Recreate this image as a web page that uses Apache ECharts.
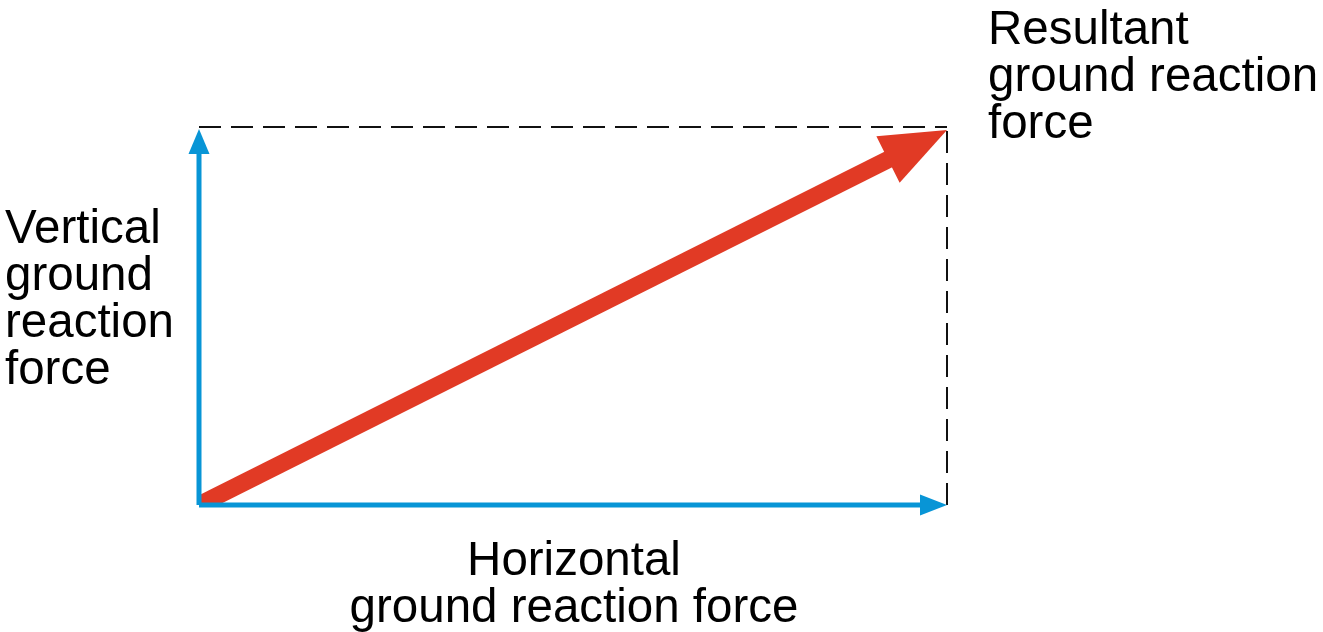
<!DOCTYPE html>
<html>
<head>
<meta charset="utf-8">
<script src="https://cdn.jsdelivr.net/npm/echarts@6/dist/echarts.min.js"></script>
<style>
  html, body { margin: 0; padding: 0; background: #fff; }
  #chart { width: 1323px; height: 632px; }
</style>
</head>
<body>
<div id="chart"></div>
<script>
// force vectors, drawn in order (resultant under the components)
const arrowNames = ['Resultant', 'Horizontal', 'Vertical'];
const arrowStartX = [0, 0, 0];
const arrowStartY = [0, 0, 0];
const arrowEndX = [1, 1, 0];
const arrowEndY = [0.992, 0, 0.995];

// dashed completion of the parallelogram
const dashStartX = [0, 1];
const dashStartY = [1, 0];
const dashEndX = [1, 1];
const dashEndY = [1, 1];

const labelResultant = 'Resultant\nground reaction\nforce';
const labelVertical = 'Vertical\nground\nreaction\nforce';
const labelHorizontal = 'Horizontal\nground reaction force';

const arrowStyle = {
    Resultant: { color: '#E13A25', width: 17.5, headLen: 66, headWidth: 52, clipStart: true },
    Horizontal: { color: '#0895D6', width: 5, headLen: 27, headWidth: 21, clipStart: false },
    Vertical: { color: '#0895D6', width: 5, headLen: 25, headWidth: 21, clipStart: false }
};

let arrowData = [];
arrowNames.forEach(function (name, i) {
    arrowData.push({ name: name, value: [arrowStartX[i], arrowStartY[i], arrowEndX[i], arrowEndY[i]] });
});

let dashData = [];
dashStartX.forEach(function (x, i) {
    dashData.push({ coords: [[x, dashStartY[i]], [dashEndX[i], dashEndY[i]]] });
});

function renderArrow(params, api) {
    let p0 = api.coord([api.value(0), api.value(1)]);
    let p1 = api.coord([api.value(2), api.value(3)]);
    let st = arrowStyle[arrowNames[params.dataIndex]];
    let dx = p1[0] - p0[0], dy = p1[1] - p0[1];
    let len = Math.sqrt(dx * dx + dy * dy);
    let ux = dx / len, uy = dy / len;
    let bx = p1[0] - ux * st.headLen, by = p1[1] - uy * st.headLen;
    let nx = -uy * st.headWidth / 2, ny = ux * st.headWidth / 2;
    let shaft = {
        type: 'line',
        shape: { x1: p0[0], y1: p0[1], x2: bx + ux * 2, y2: by + uy * 2 },
        style: { stroke: st.color, lineWidth: st.width, lineCap: 'butt' }
    };
    if (st.clipStart) {
        // cut the butt end of the shaft at the corner of the axes
        shaft.clipPath = { type: 'rect', shape: { x: p0[0], y: 0, width: 2000, height: p0[1] } };
    }
    return {
        type: 'group',
        children: [
            shaft,
            {
                type: 'polygon',
                shape: { points: [[p1[0], p1[1]], [bx + nx, by + ny], [bx - nx, by - ny]] },
                style: { fill: st.color }
            }
        ]
    };
}

var myChart = echarts.init(document.getElementById('chart'));

let labelFont = '47.5px "Liberation Sans", Arial, sans-serif';

var option = {
    animation: false,
    backgroundColor: '#ffffff',
    grid: { left: 199, right: 376, top: 127, bottom: 127 },
    xAxis: { type: 'value', min: 0, max: 1, show: false },
    yAxis: { type: 'value', min: 0, max: 1, show: false },
    graphic: [
        {
            type: 'text', left: 988, top: 7,
            style: { text: labelResultant, font: labelFont, lineHeight: 47, fill: '#000' }
        },
        {
            type: 'text', left: 5, top: 206,
            style: { text: labelVertical, font: labelFont, lineHeight: 47, fill: '#000' }
        },
        {
            type: 'text', x: 574, y: 538,
            style: { text: labelHorizontal, font: labelFont, lineHeight: 47, fill: '#000', align: 'center', verticalAlign: 'top' }
        }
    ],
    series: [
        {
            type: 'lines',
            coordinateSystem: 'cartesian2d',
            z: 1,
            silent: true,
            lineStyle: { color: '#111', width: 2, type: [22, 10], opacity: 1 },
            data: dashData
        },
        {
            type: 'custom',
            z: 2,
            renderItem: renderArrow,
            data: arrowData
        }
    ]
};

myChart.setOption(option);
</script>
</body>
</html>
